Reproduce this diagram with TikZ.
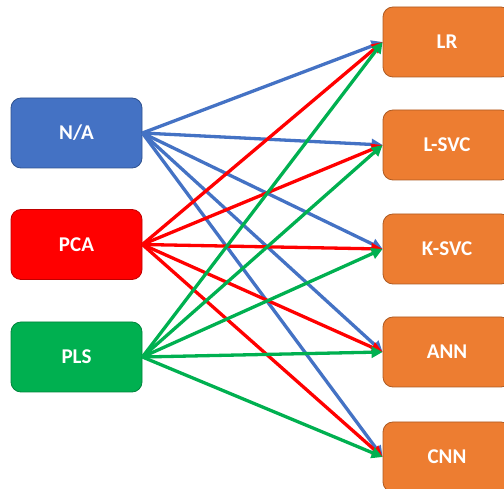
\documentclass[tikz,border=0pt]{standalone}
\usepackage{fontspec}
\setmainfont{Carlito}
\usetikzlibrary{arrows.meta}
\definecolor{cblue}{HTML}{4472C4}
\definecolor{cbluedk}{HTML}{2F528F}
\definecolor{cred}{HTML}{FF0000}
\definecolor{creddk}{HTML}{C00000}
\definecolor{cgreen}{HTML}{00B050}
\definecolor{cgreendk}{HTML}{00843C}
\definecolor{corange}{HTML}{ED7D31}
\definecolor{corangedk}{HTML}{AE5A21}
\tikzset{
  box/.style={rounded corners=10pt, minimum width=131pt, minimum height=70pt,
    inner sep=0pt, text=white, font=\fontsize{21}{25}\selectfont\bfseries, line width=0.8pt},
  lbox/.style={box},
  rbox/.style={box, fill=corange, draw=corangedk, minimum width=128pt},
  conn/.style={line width=3.3pt, -{Triangle[length=11pt,width=11pt]}, shorten >=0pt},
}
\begin{document}
\begin{tikzpicture}[x=1pt,y=-1pt]
\useasboundingbox (0,0) rectangle (504,489);
\begin{scope}
\clip (0,0) rectangle (504,489);
\node[lbox, fill=cblue, draw=cbluedk] (na) at (76.5,133) {N/A};
\node[lbox, fill=cred, draw=creddk] (pca) at (76.5,244.5) {PCA};
\node[lbox, fill=cgreen, draw=cgreendk] (pls) at (76.5,357) {PLS};
\node[rbox] (lr) at (447,42) {LR};
\node[rbox] (lsvc) at (447,145) {L-SVC};
\node[rbox] (ksvc) at (447,249) {K-SVC};
\node[rbox] (ann) at (447,352) {ANN};
\node[rbox] (cnn) at (447,457) {CNN};
\foreach \t in {lr,lsvc,ksvc,ann,cnn}{
  \draw[conn, cblue] (na.east) -- (\t.west);
}
\foreach \t in {lr,lsvc,ksvc,ann,cnn}{
  \draw[conn, cred] (pca.east) -- (\t.west);
}
\foreach \t in {lr,lsvc,ksvc,ann,cnn}{
  \draw[conn, cgreen] (pls.east) -- (\t.west);
}
\end{scope}
\end{tikzpicture}
\end{document}
